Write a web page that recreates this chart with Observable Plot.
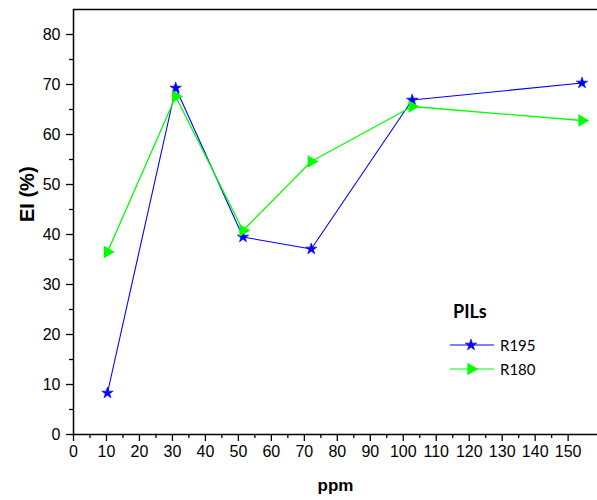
<!DOCTYPE html>
<html>
<head>
<meta charset="utf-8">
<script src="https://cdn.jsdelivr.net/npm/d3@7"></script>
<script src="https://cdn.jsdelivr.net/npm/@observablehq/plot@0.6"></script>
<style>
  html, body { margin: 0; padding: 0; background: #fff; }
  #wrap { position: relative; width: 597px; height: 500px; }
  #legend { position: absolute; left: 450px; top: 296px; font-family: Lato, "Liberation Sans", sans-serif; color: #000; }
  #legend .title { font-weight: bold; font-size: 18px; margin-left: 3px; height: 30px; line-height: 30px; margin-bottom: 7px; }
  #legend .row { display: flex; align-items: center; height: 24px; font-size: 15px; }
  #legend svg { display: block; margin-right: 6px; }
</style>
</head>
<body>
<div id="wrap"></div>
<script>
// Data
const ppm   = [10.3, 31, 51.4, 72.1, 102.7, 154.2];
const r195  = [8.3, 69.3, 39.5, 37.1, 66.9, 70.3];
const r180  = [36.5, 67.6, 40.8, 54.6, 65.6, 62.8];
const seriesNames = ["R195", "R180"];
const seriesColors = ["#0000ff", "#00ff00"];
const xMajorTicks = d3.range(0, 151, 10);
const xMinorTicks = d3.range(5, 151, 10);
const yMajorTicks = d3.range(0, 81, 10);
const yMinorTicks = d3.range(5, 80, 10);
const xTitle = "ppm";
const yTitle = "EI (%)";
const legendTitle = "PILs";

const rows195 = ppm.map((x, i) => ({x, y: r195[i]}));
const rows180 = ppm.map((x, i) => ({x, y: r180[i]}));

const font = "'Liberation Sans', Arial, sans-serif";
const starR = 3.6, triR = 4.7;

const chart = Plot.plot({
  width: 597,
  height: 500,
  marginLeft: 73,
  marginRight: 0,
  marginTop: 9,
  marginBottom: 66,
  style: {fontFamily: font, background: "#fff", overflow: "visible"},
  x: {domain: [0, 158.9]},
  y: {domain: [0, 85]},
  marks: [
    Plot.ruleY([85], {stroke: "#000", strokeWidth: 1.3}),
    Plot.axisX({ticks: xMajorTicks, tickSize: 7, tickPadding: 4, fontSize: 16, label: null, tickFormat: d => String(d), strokeWidth: 1.3, fill: "#000"}),
    Plot.axisX({ticks: xMinorTicks, tickSize: 4, text: null, label: null, strokeWidth: 1.3}),
    Plot.axisY({ticks: yMajorTicks, tickSize: 7, tickPadding: 6, fontSize: 16, label: null, strokeWidth: 1.3, fill: "#000"}),
    Plot.axisY({ticks: yMinorTicks, tickSize: 4, text: null, label: null, strokeWidth: 1.3}),
    Plot.ruleX([0], {stroke: "#000", strokeWidth: 1.5}),
    Plot.ruleY([0], {stroke: "#000", strokeWidth: 1.5}),
    Plot.line(rows195, {x: "x", y: "y", stroke: seriesColors[0], strokeWidth: 1.1}),
    Plot.line(rows180, {x: "x", y: "y", stroke: seriesColors[1], strokeWidth: 1.3}),
    Plot.dot(rows195, {x: "x", y: "y", symbol: "star", r: starR, fill: seriesColors[0], stroke: seriesColors[0], strokeWidth: 0.6}),
    Plot.dot(rows180, {x: "x", y: "y", symbol: "triangle", rotate: 90, r: triR, fill: seriesColors[1], stroke: null}),
    Plot.text([yTitle], {frameAnchor: "left", dx: -46, rotate: -90, fontWeight: "bold", fontSize: 20, fill: "#000"}),
    Plot.text([xTitle], {frameAnchor: "bottom", dy: 56, fontWeight: "bold", fontSize: 17, fill: "#000"})
  ]
});
document.getElementById("wrap").appendChild(chart);

// Legend overlay
const legend = document.createElement("div");
legend.id = "legend";
const t = document.createElement("div");
t.className = "title";
t.textContent = legendTitle;
legend.appendChild(t);
const symbols = [d3.symbolStar, d3.symbolTriangle];
const sizes = [Math.PI * starR * starR, Math.PI * triR * triR];
seriesNames.forEach((name, i) => {
  const row = document.createElement("div");
  row.className = "row";
  const svg = d3.create("svg").attr("width", 44).attr("height", 20);
  svg.append("line").attr("x1", 0).attr("x2", 44).attr("y1", 10).attr("y2", 10)
    .attr("stroke", seriesColors[i]).attr("stroke-width", 1.2);
  svg.append("path").attr("d", d3.symbol(symbols[i], sizes[i])())
    .attr("transform", `translate(21,10)` + (i === 1 ? " rotate(90)" : ""))
    .attr("fill", seriesColors[i])
    .attr("stroke", i === 0 ? seriesColors[i] : "none").attr("stroke-width", 0.6);
  row.appendChild(svg.node());
  const label = document.createElement("span");
  label.textContent = name;
  row.appendChild(label);
  legend.appendChild(row);
});
document.getElementById("wrap").appendChild(legend);
</script>
</body>
</html>
